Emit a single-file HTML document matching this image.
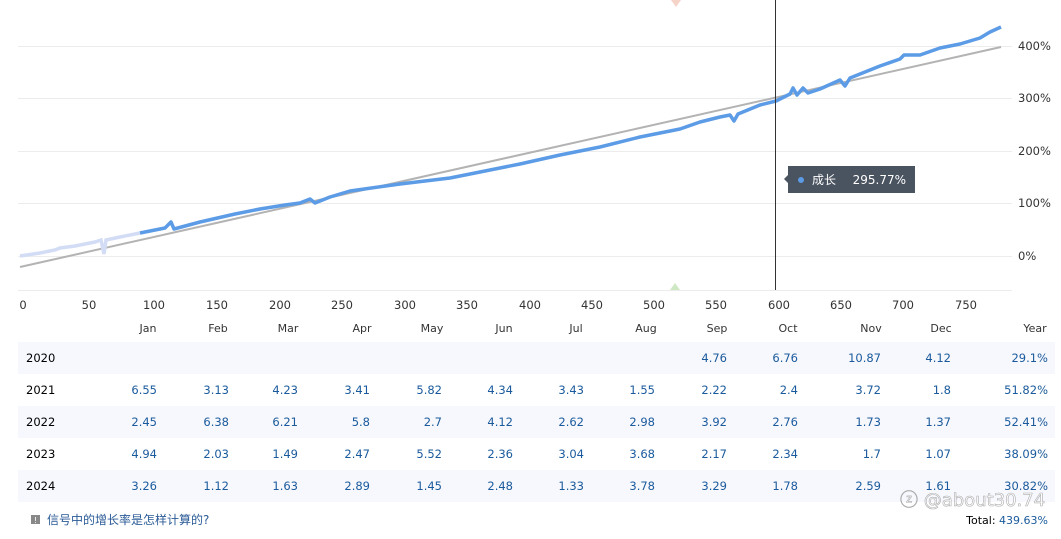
<!DOCTYPE html>
<html><head><meta charset="utf-8"><style>
html,body{margin:0;padding:0;background:#fff;}
svg text{font-family:"DejaVu Sans","Noto Sans CJK SC",sans-serif;}
</style></head><body>
<svg width="1061" height="534" xmlns="http://www.w3.org/2000/svg">
<g stroke="#ececec" stroke-width="1">
<line x1="18" y1="46.5" x2="1012" y2="46.5"/>
<line x1="18" y1="98.5" x2="1012" y2="98.5"/>
<line x1="18" y1="151.5" x2="1012" y2="151.5"/>
<line x1="18" y1="203.5" x2="1012" y2="203.5"/>
<line x1="18" y1="256.5" x2="1012" y2="256.5"/>
<line x1="18" y1="290.5" x2="1012" y2="290.5"/>
</g>
<g font-size="11.5" fill="#333" text-anchor="start">
<text x="1018" y="50">400%</text><text x="1018" y="102">300%</text><text x="1018" y="155">200%</text><text x="1018" y="207">100%</text><text x="1018" y="260">0%</text>
</g>
<g font-size="11.5" fill="#333" text-anchor="middle">
<text x="23" y="309">0</text><text x="89" y="309">50</text><text x="154" y="309">100</text><text x="217" y="309">150</text><text x="280" y="309">200</text><text x="342" y="309">250</text><text x="405" y="309">300</text><text x="467" y="309">350</text><text x="530" y="309">400</text><text x="592" y="309">450</text><text x="654" y="309">500</text><text x="716" y="309">550</text><text x="779" y="309">600</text><text x="841" y="309">650</text><text x="903" y="309">700</text><text x="966" y="309">750</text>
</g>
<polygon points="671,0 681,0 676,7" fill="#f6d3c8"/>
<polygon points="670,290 680,290 675,283" fill="#cfe8c4"/>
<line x1="20" y1="267" x2="1001" y2="47" stroke="#b3b3b3" stroke-width="2"/>
<polyline fill="none" stroke="#d3dcf5" stroke-width="3.5" points="20,256 40,253 55,250 60,248 75,246 95,242 101,240 104,254 106,240 120,237 140,233"/>
<polyline fill="none" stroke="#5c9be6" stroke-width="3.5" stroke-linejoin="round" points="140,233 165,228 171,222 174,229 200,222 235,214 260,209 285,205 300,203 310,199 315,203 330,197 350,191 400,184 450,178 480,172 520,164 560,155 600,147 640,137 680,129 700,122 720,117 730,115 734,121 738,114 760,105 776,101 790,94 793,88 797,95 803,88 808,93 820,89 840,80 845,86 850,78 880,66 900,59 904,55 920,55 940,48 960,44 980,38 990,32 1001,27"/>
<line x1="775.5" y1="0" x2="775.5" y2="290" stroke="#333" stroke-width="1"/>
<rect x="788" y="166" width="127" height="27" fill="#4a5360"/>
<polygon points="788,175 784,179 788,183" fill="#4a5360"/>
<circle cx="801" cy="180" r="3" fill="#5c9be6"/>
<text x="812" y="184" font-size="12" fill="#fff">成长</text>
<text x="906" y="184" font-size="12" fill="#fff" text-anchor="end">295.77%</text>
<g font-size="11" fill="#333" text-anchor="middle">
<text x="148" y="332">Jan</text><text x="218" y="332">Feb</text><text x="288" y="332">Mar</text><text x="362" y="332">Apr</text><text x="432" y="332">May</text><text x="504" y="332">Jun</text><text x="576" y="332">Jul</text><text x="646" y="332">Aug</text><text x="717" y="332">Sep</text><text x="788" y="332">Oct</text><text x="871" y="332">Nov</text><text x="941" y="332">Dec</text><text x="1035" y="332">Year</text>
</g>
<rect x="18" y="342" width="1037" height="32" fill="#f7f8fd"/>
<rect x="18" y="406" width="1037" height="32" fill="#f7f8fd"/>
<rect x="18" y="470" width="1037" height="32" fill="#f7f8fd"/>
<g font-size="11.5" fill="#000"><text x="26" y="362">2020</text><text x="26" y="394">2021</text><text x="26" y="426">2022</text><text x="26" y="458">2023</text><text x="26" y="490">2024</text></g>
<g font-size="11.5" fill="#1a5a9c" text-anchor="end">
<text x="727" y="362">4.76</text><text x="798" y="362">6.76</text><text x="881" y="362">10.87</text><text x="951" y="362">4.12</text><text x="1048" y="362">29.1%</text>
<text x="157" y="394">6.55</text><text x="229" y="394">3.13</text><text x="298" y="394">4.23</text><text x="370" y="394">3.41</text><text x="442" y="394">5.82</text><text x="513" y="394">4.34</text><text x="584" y="394">3.43</text><text x="655" y="394">1.55</text><text x="727" y="394">2.22</text><text x="798" y="394">2.4</text><text x="881" y="394">3.72</text><text x="951" y="394">1.8</text><text x="1048" y="394">51.82%</text>
<text x="157" y="426">2.45</text><text x="229" y="426">6.38</text><text x="298" y="426">6.21</text><text x="370" y="426">5.8</text><text x="442" y="426">2.7</text><text x="513" y="426">4.12</text><text x="584" y="426">2.62</text><text x="655" y="426">2.98</text><text x="727" y="426">3.92</text><text x="798" y="426">2.76</text><text x="881" y="426">1.73</text><text x="951" y="426">1.37</text><text x="1048" y="426">52.41%</text>
<text x="157" y="458">4.94</text><text x="229" y="458">2.03</text><text x="298" y="458">1.49</text><text x="370" y="458">2.47</text><text x="442" y="458">5.52</text><text x="513" y="458">2.36</text><text x="584" y="458">3.04</text><text x="655" y="458">3.68</text><text x="727" y="458">2.17</text><text x="798" y="458">2.34</text><text x="881" y="458">1.7</text><text x="951" y="458">1.07</text><text x="1048" y="458">38.09%</text>
<text x="157" y="490">3.26</text><text x="229" y="490">1.12</text><text x="298" y="490">1.63</text><text x="370" y="490">2.89</text><text x="442" y="490">1.45</text><text x="513" y="490">2.48</text><text x="584" y="490">1.33</text><text x="655" y="490">3.78</text><text x="727" y="490">3.29</text><text x="798" y="490">1.78</text><text x="881" y="490">2.59</text><text x="951" y="490">1.61</text><text x="1048" y="490">30.82%</text>
</g>
<rect x="31" y="515" width="9" height="9" fill="#888"/>
<text x="35.5" y="523" font-size="8" fill="#fff" text-anchor="middle">!</text>
<text x="47" y="524" font-size="12" fill="#2a5a96">信号中的增长率是怎样计算的?</text>
<text x="1048" y="524" font-size="11" fill="#000" text-anchor="end">Total: <tspan fill="#1a5a9c">439.63%</tspan></text>
<text x="900" y="506" font-size="18" fill="#ffffff" stroke="#999" stroke-width="0.6" opacity="0.8">ⓩ @about30.74</text>
</svg>
</body></html>
